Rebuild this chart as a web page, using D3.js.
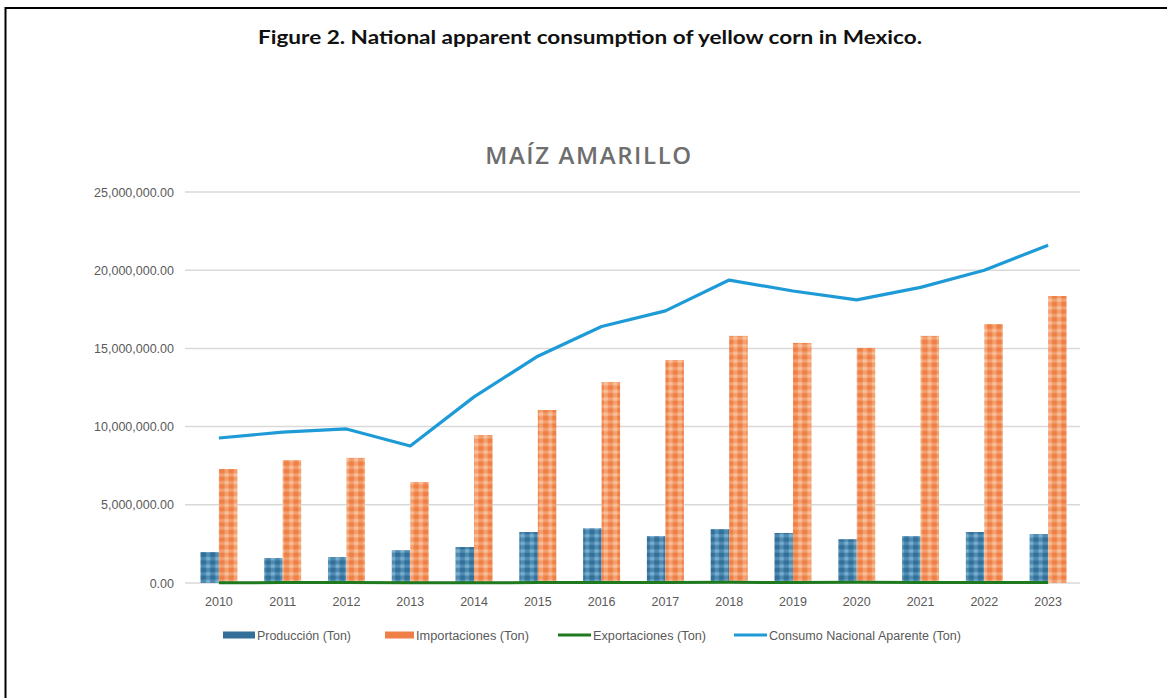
<!DOCTYPE html>
<html>
<head>
<meta charset="utf-8">
<script src="https://cdn.jsdelivr.net/npm/d3@7"></script>
<style>
  html, body { margin: 0; padding: 0; background: #ffffff; }
  svg { display: block; }
</style>
</head>
<body>
<svg id="chart" width="1167" height="698"></svg>
<script>
// Yellow corn balance for Mexico, tonnes per year
const years = ["2010","2011","2012","2013","2014","2015","2016","2017","2018","2019","2020","2021","2022","2023"];
const produccion = [1980000, 1600000, 1660000, 2100000, 2300000, 3260000, 3500000, 3000000, 3450000, 3200000, 2800000, 3000000, 3260000, 3130000];
const importaciones = [7290000, 7860000, 8000000, 6460000, 9460000, 11060000, 12850000, 14260000, 15800000, 15350000, 15030000, 15800000, 16560000, 18350000];
const exportaciones = [20000, 25000, 30000, 20000, 15000, 30000, 25000, 30000, 40000, 35000, 45000, 30000, 25000, 30000];
const consumo = [9270000, 9650000, 9850000, 8760000, 11900000, 14500000, 16400000, 17400000, 19370000, 18670000, 18100000, 18900000, 20000000, 21600000];
const yTicks = [0, 5000000, 10000000, 15000000, 20000000, 25000000];
const legendLabels = ["Producción (Ton)", "Importaciones (Ton)", "Exportaciones (Ton)", "Consumo Nacional Aparente (Ton)"];

const svg = d3.select("#chart");

// Outer frame (top and left rules)
svg.append("line").attr("x1", 5.5).attr("x2", 1167).attr("y1", 8).attr("y2", 8)
  .attr("stroke", "#000").attr("stroke-width", 2);
svg.append("line").attr("x1", 5.5).attr("x2", 5.5).attr("y1", 7).attr("y2", 698)
  .attr("stroke", "#000").attr("stroke-width", 2);

// Figure caption
svg.append("text")
  .attr("x", 590).attr("y", 44)
  .attr("text-anchor", "middle")
  .attr("font-family", "Lato, 'Liberation Sans', sans-serif")
  .attr("font-weight", 700)
  .attr("font-size", 19)
  .attr("textLength", 664)
  .attr("lengthAdjust", "spacingAndGlyphs")
  .attr("fill", "#111")
  .text("Figure 2. National apparent consumption of yellow corn in Mexico.");

// Chart title
svg.append("text")
  .attr("x", 589).attr("y", 164)
  .attr("text-anchor", "middle")
  .attr("font-family", "'Open Sans', 'Noto Sans', sans-serif")
  .attr("font-weight", 600)
  .attr("font-size", 24)
  .attr("letter-spacing", 1.6)
  .attr("fill", "#6e6e6e")
  .text("MAÍZ AMARILLO");

// Scales
const x = d3.scaleBand().domain(years).range([187, 1080]).paddingInner(0.42).paddingOuter(0.21);
const xSub = d3.scaleBand().domain(["prod", "imp"]).range([0, x.bandwidth()]);
const y = d3.scaleLinear().domain([0, 25000000]).range([583, 192]);

// Bar fill patterns
const defs = svg.append("defs");
function makePattern(id, base, light, mid) {
  const p = defs.append("pattern").attr("id", id)
    .attr("patternUnits", "userSpaceOnUse")
    .attr("width", 9.25).attr("height", 7.6);
  p.append("rect").attr("width", 9.25).attr("height", 7.6).attr("fill", base);
  p.append("rect").attr("x", 2.5).attr("y", 0).attr("width", 4.2).attr("height", 7.6).attr("fill", mid);
  p.append("rect").attr("x", 0).attr("y", 2.2).attr("width", 9.25).attr("height", 3.2).attr("fill", mid);
  p.append("rect").attr("x", 2.5).attr("y", 2.2).attr("width", 4.2).attr("height", 3.2).attr("fill", light);
}
makePattern("patProd", "#336f98", "#79b0cf", "#4f8bb2");
makePattern("patImp", "#ef7f46", "#f8c19c", "#f39f6e");

const filt = defs.append("filter").attr("id", "soft");
filt.append("feGaussianBlur").attr("stdDeviation", 0.7);

// Gridlines
const gGrid = svg.append("g");
gGrid.selectAll("line").data(yTicks).join("line")
  .attr("x1", 185).attr("x2", 1080)
  .attr("y1", d => y(d)).attr("y2", d => y(d))
  .attr("stroke", "#d9d9d9").attr("stroke-width", 1.5);

// Y axis labels
const yAxis = d3.axisLeft(y).tickValues(yTicks).tickFormat(d3.format(",.2f")).tickSize(0).tickPadding(0);
const gy = svg.append("g").attr("transform", "translate(174,0)").call(yAxis);
gy.select(".domain").remove();
gy.selectAll("text")
  .attr("font-family", "'Liberation Sans', Arial, sans-serif")
  .attr("font-size", 12.5)
  .attr("fill", "#5a5a5a");

// X axis labels
const xAxis = d3.axisBottom(x).tickSize(0).tickPadding(0);
const gx = svg.append("g").attr("transform", "translate(0,597)").call(xAxis);
gx.select(".domain").remove();
gx.selectAll("text")
  .attr("dy", "0.71em")
  .attr("font-family", "'Liberation Sans', Arial, sans-serif")
  .attr("font-size", 12.5)
  .attr("fill", "#5a5a5a");

// Bars
const barData = years.map((yr, i) => ({ yr, prod: produccion[i], imp: importaciones[i] }));
const gBars = svg.append("g").attr("filter", "url(#soft)");
gBars.selectAll("rect.prod").data(barData).join("rect")
  .attr("class", "prod")
  .attr("x", d => x(d.yr) + xSub("prod"))
  .attr("width", xSub.bandwidth())
  .attr("y", d => y(d.prod))
  .attr("height", d => y(0) - y(d.prod))
  .attr("fill", "url(#patProd)");
gBars.selectAll("rect.imp").data(barData).join("rect")
  .attr("class", "imp")
  .attr("x", d => x(d.yr) + xSub("imp"))
  .attr("width", xSub.bandwidth())
  .attr("y", d => y(d.imp))
  .attr("height", d => y(0) - y(d.imp))
  .attr("fill", "url(#patImp)");

// Lines
const cx = yr => x(yr) + x.bandwidth() / 2;
const line = d3.line().x((d, i) => cx(years[i])).y(d => y(d));

svg.append("path").datum(exportaciones)
  .attr("d", line)
  .attr("fill", "none")
  .attr("stroke", "#1f7a1f")
  .attr("stroke-width", 3);

svg.append("path").datum(consumo)
  .attr("d", line)
  .attr("fill", "none")
  .attr("stroke", "#1e9bd7")
  .attr("stroke-width", 3.2)
  .attr("stroke-linejoin", "round");

// Legend
const legendItems = [
  { label: legendLabels[0], type: "bar", color: "#336f98", x: 223, w: 32, tw: 94 },
  { label: legendLabels[1], type: "bar", color: "#ef7f46", x: 385, w: 29, tw: 113 },
  { label: legendLabels[2], type: "line", color: "#1f7a1f", x: 558, w: 33, tw: 113 },
  { label: legendLabels[3], type: "line", color: "#1e9bd7", x: 734, w: 33, tw: 192 }
];
const legendY = 635;
const gLeg = svg.append("g");
legendItems.forEach(it => {
  if (it.type === "bar") {
    gLeg.append("rect").attr("x", it.x).attr("y", legendY - 3.5).attr("width", it.w).attr("height", 7)
      .attr("fill", it.color);
  } else {
    gLeg.append("line").attr("x1", it.x).attr("x2", it.x + it.w).attr("y1", legendY).attr("y2", legendY)
      .attr("stroke", it.color).attr("stroke-width", 3);
  }
  gLeg.append("text")
    .attr("x", it.x + it.w + 2).attr("y", legendY + 4.5)
    .attr("font-family", "'Liberation Sans', sans-serif")
    .attr("font-size", 12.5)
    .attr("textLength", it.tw)
    .attr("lengthAdjust", "spacingAndGlyphs")
    .attr("fill", "#5a5a5a")
    .text(it.label);
});
</script>
</body>
</html>
